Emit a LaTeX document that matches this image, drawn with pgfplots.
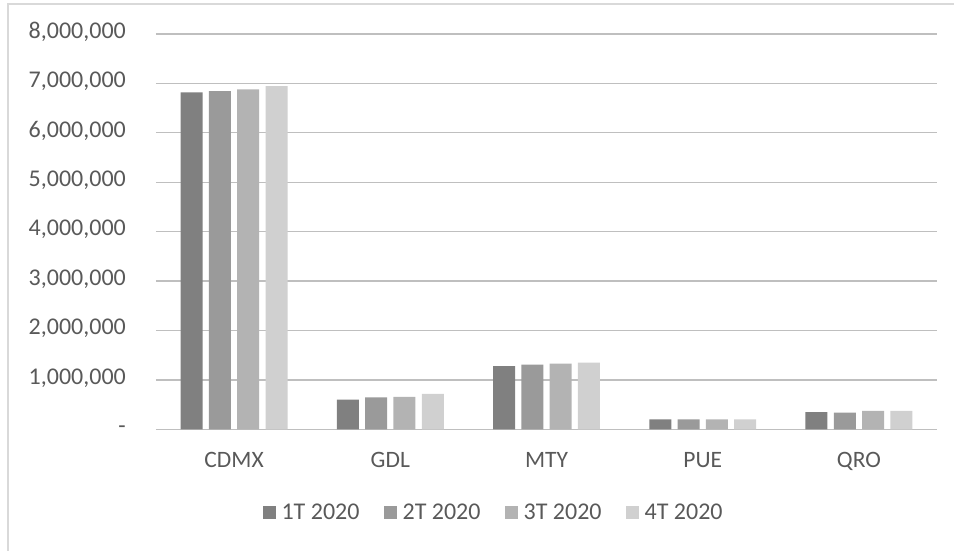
\documentclass[border=0pt]{standalone}
\usepackage{pgfplots}
\pgfplotsset{compat=1.18}
\usepackage{fontspec}
\setmainfont{Carlito}
\definecolor{txt}{HTML}{595959}
\definecolor{grid}{HTML}{D9D9D9}
\definecolor{cA}{HTML}{808080}
\definecolor{cB}{HTML}{9A9A9A}
\definecolor{cC}{HTML}{B3B3B3}
\definecolor{cD}{HTML}{D0D0D0}
\begin{document}
\begin{tikzpicture}[x=1pt,y=1pt]
\path[use as bounding box] (0,0) rectangle (954,550);
\draw[grid, line width=1.2pt] (8,-20) -- (8,546) -- (980,546);
\begin{axis}[
  at={(156pt,120.7pt)}, anchor=south west,
  scale only axis, width=781pt, height=395.3pt,
  ybar=6.3pt, bar width=22pt,
  xmin=-0.5, xmax=4.5, ymin=0, ymax=8000000,
  xtick=data, xticklabels={CDMX,GDL,MTY,PUE,QRO},
  ytick={0,1000000,2000000,3000000,4000000,5000000,6000000,7000000,8000000},
  yticklabels={{-},{1,000,000},{2,000,000},{3,000,000},{4,000,000},{5,000,000},{6,000,000},{7,000,000},{8,000,000}},
  scaled y ticks=false,
  axis line style={draw=none},
  xmajorgrids=false, ymajorgrids=true,
  ymajorgrids, major grid style={grid, line width=1.3pt},
  x tick style={draw=none}, y tick style={draw=none},
  major tick length=0pt,
  xticklabel style={font=\fontsize{23.5pt}{27pt}\selectfont, text=txt, anchor=base, inner sep=0pt, yshift=-37.7pt},
  yticklabel style={font=\fontsize{24pt}{27pt}\selectfont, text=txt, anchor=base east, inner sep=0pt, xshift=-30pt, yshift=-4.3pt},
  legend columns=4,
  legend style={draw=none, fill=none, inner sep=0pt, font=\fontsize{24pt}{27pt}\selectfont, text=txt,
    at={(axis description cs:0.1366,-0.2287)}, anchor=base west,
    nodes={inner sep=0pt}, cells={anchor=base west},
    /tikz/every odd column/.append style={column sep=5.7pt},
    /tikz/every even column/.append style={column sep=24.4pt}},
  legend image code/.code={\fill[#1] (0pt,0.7pt) rectangle (13pt,13.7pt);},
]
\addplot[fill=cA, draw=none] coordinates {(0,6820000) (1,603000) (2,1281000) (3,203000) (4,346000)};
\addplot[fill=cB, draw=none] coordinates {(0,6845000) (1,644000) (2,1308000) (3,203000) (4,339000)};
\addplot[fill=cC, draw=none] coordinates {(0,6880000) (1,658000) (2,1329000) (3,203000) (4,373000)};
\addplot[fill=cD, draw=none] coordinates {(0,6946000) (1,719000) (2,1349000) (3,203000) (4,373000)};
\legend{1T 2020,2T 2020,3T 2020,4T 2020}
\end{axis}
\end{tikzpicture}
\end{document}
